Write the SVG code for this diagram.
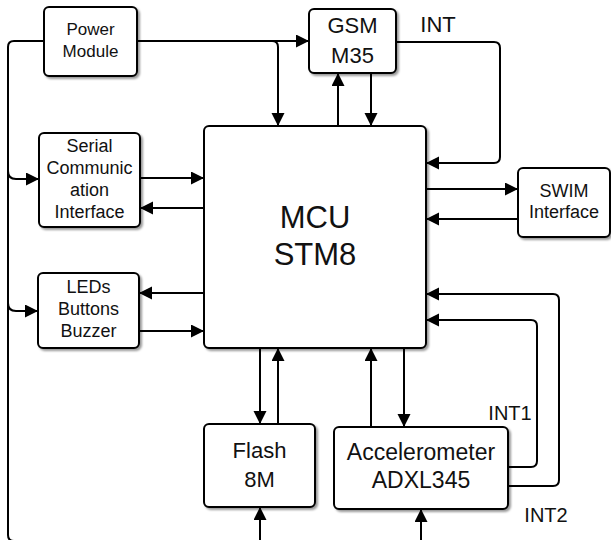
<svg xmlns="http://www.w3.org/2000/svg" width="611" height="540" viewBox="0 0 611 540">
<style>
.box{fill:#fff;stroke:#000;stroke-width:2;filter:url(#sh)}
.t{font-family:"Liberation Sans",Arial,sans-serif;fill:#111;text-anchor:middle}
.c{fill:none;stroke:#000;stroke-width:2}
.a{marker-end:url(#ar)}
</style>
<defs>
<marker id="ar" markerUnits="userSpaceOnUse" markerWidth="14" markerHeight="14" refX="13" refY="6.5" orient="auto"><path d="M0,0 L13,6.5 L0,13 z" fill="#000"/></marker>
<filter id="sh" x="-10%" y="-10%" width="130%" height="130%"><feDropShadow dx="2" dy="2" stdDeviation="1" flood-color="#000" flood-opacity="0.4"/></filter>
</defs>
<g id="connectors">
<path class="c" d="M44,41 L14,41 Q8,41 8,47 L8,535 Q8,541 14,541 L421,541"/>
<path class="c a" d="M8,171 Q8,179 16,179 L39,179"/>
<path class="c a" d="M8,303 Q8,311 16,311 L38,311"/>
<path class="c a" d="M137,41 L309,41"/>
<path class="c a" d="M272,41 Q278,41 278,47 L278,126"/>
<path class="c a" d="M338,126 L338,73"/>
<path class="c a" d="M371,73 L371,126"/>
<path class="c a" d="M396,42 L494,42 Q500,42 500,48 L500,157 Q500,163 494,163 L426,163"/>
<path class="c a" d="M426,189 L518,189"/>
<path class="c a" d="M518,219 L426,219"/>
<path class="c a" d="M508,486 L553,486 Q559,486 559,480 L559,300 Q559,294 553,294 L426,294"/>
<path class="c a" d="M508,467 L531,467 Q537,467 537,461 L537,326 Q537,320 531,320 L426,320"/>
<path class="c a" d="M371,427 L371,348"/>
<path class="c a" d="M404,348 L404,427"/>
<path class="c a" d="M260,348 L260,424"/>
<path class="c a" d="M278,424 L278,348"/>
<path class="c a" d="M260,545 L260,507"/>
<path class="c a" d="M421,545 L421,509"/>
<path class="c a" d="M140,178 L204,178"/>
<path class="c a" d="M204,208 L140,208"/>
<path class="c a" d="M204,293 L139,293"/>
<path class="c a" d="M139,331 L204,331"/>
</g>
<g id="power"><rect class="box" x="44" y="7" width="93" height="69" rx="5"/><text class="t" font-size="17" x="90.5" y="35">Power</text><text class="t" font-size="17" x="90.5" y="57">Module</text></g>
<g id="gsm"><rect class="box" x="309" y="9" width="87" height="64" rx="5"/><text class="t" font-size="22" x="352.5" y="33">GSM</text><text class="t" font-size="22" x="352.5" y="63">M35</text></g>
<g id="mcu"><rect class="box" x="204" y="126" width="222" height="222" rx="5"/><text class="t" font-size="31" x="315" y="228">MCU</text><text class="t" font-size="31" x="315" y="265">STM8</text></g>
<g id="serial"><rect class="box" x="39" y="133" width="101" height="94" rx="5"/><text class="t" font-size="18" x="89.5" y="152">Serial</text><text class="t" font-size="18" x="89.5" y="174">Communic</text><text class="t" font-size="18" x="89.5" y="196">ation</text><text class="t" font-size="18" x="89.5" y="218">Interface</text></g>
<g id="leds"><rect class="box" x="38" y="273" width="101" height="75" rx="5"/><text class="t" font-size="18" x="88.5" y="293">LEDs</text><text class="t" font-size="18" x="88.5" y="315">Buttons</text><text class="t" font-size="18" x="88.5" y="337">Buzzer</text></g>
<g id="swim"><rect class="box" x="518" y="168" width="92" height="69" rx="5"/><text class="t" font-size="18" x="564" y="197">SWIM</text><text class="t" font-size="18" x="564" y="218">Interface</text></g>
<g id="flash"><rect class="box" x="204" y="424" width="111" height="83" rx="5"/><text class="t" font-size="22" x="259.5" y="458">Flash</text><text class="t" font-size="22" x="259.5" y="487">8M</text></g>
<g id="accel"><rect class="box" x="334" y="427" width="174" height="82" rx="5"/><text class="t" font-size="23" x="421" y="460">Accelerometer</text><text class="t" font-size="23" x="421" y="488">ADXL345</text></g>
<g id="labels"><text class="t" font-size="22" x="438" y="32">INT</text><text class="t" font-size="20" x="510" y="420">INT1</text><text class="t" font-size="20" x="546" y="522">INT2</text></g>
</svg>
